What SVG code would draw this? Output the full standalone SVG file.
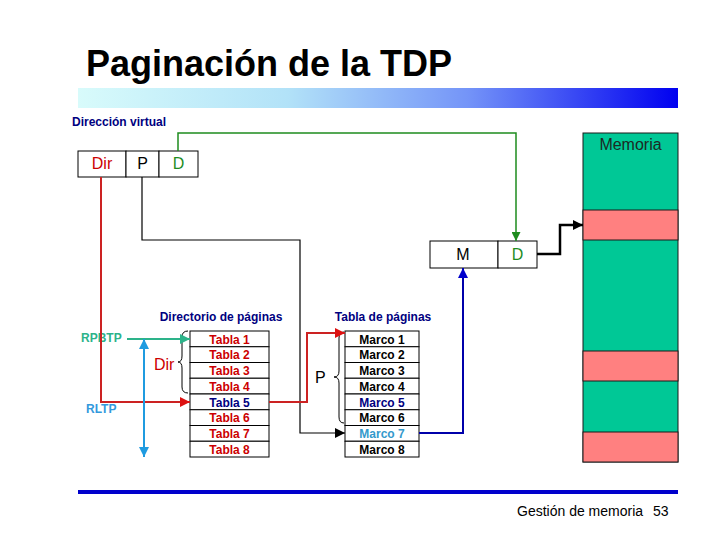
<svg xmlns="http://www.w3.org/2000/svg" width="720" height="540" viewBox="0 0 720 540">
<style>
text{font-family:"Liberation Sans",Arial,sans-serif}
.b{font-weight:bold}
.cell{fill:#fff;stroke:#000;stroke-width:1}
.row{fill:#fff;stroke:#000;stroke-width:1}
.t12{font-size:12px;font-weight:bold}
.t16{font-size:16px}
.red{fill:#cc0000}
.navy{fill:#000080}
.grn{fill:#1e8c1e}
.mem{fill:#00c896;stroke:#1a1a1a;stroke-width:1}
.memr{fill:#ff8080;stroke:#1a1a1a;stroke-width:1}
.ln{fill:none}
</style>
<defs>
<linearGradient id="bar" x1="0" y1="0" x2="1" y2="0">
<stop offset="0" stop-color="#d8fbfb"/>
<stop offset="0.35" stop-color="#b2e2f8"/>
<stop offset="0.65" stop-color="#7494f8"/>
<stop offset="1" stop-color="#0000f0"/>
</linearGradient>
<marker id="aG" viewBox="0 0 10 10" refX="10" refY="5" markerWidth="10" markerHeight="9" markerUnits="userSpaceOnUse" orient="auto"><path d="M0,0L10,5L0,10z" fill="#1e8c1e"/></marker>
<marker id="aK" viewBox="0 0 10 10" refX="10" refY="5" markerWidth="11" markerHeight="10" markerUnits="userSpaceOnUse" orient="auto"><path d="M0,0L10,5L0,10z" fill="#000"/></marker>
<marker id="aB" viewBox="0 0 10 10" refX="10" refY="5" markerWidth="11" markerHeight="10" markerUnits="userSpaceOnUse" orient="auto"><path d="M0,0L10,5L0,10z" fill="#0000cc"/></marker>
<marker id="aR" viewBox="0 0 10 10" refX="10" refY="5" markerWidth="11" markerHeight="10" markerUnits="userSpaceOnUse" orient="auto"><path d="M0,0L10,5L0,10z" fill="#dd1111"/></marker>
<marker id="aS" viewBox="0 0 10 10" refX="10" refY="5" markerWidth="11" markerHeight="10" markerUnits="userSpaceOnUse" orient="auto"><path d="M0,0L10,5L0,10z" fill="#2db38a"/></marker>
<marker id="aL" viewBox="0 0 10 10" refX="10" refY="5" markerWidth="11" markerHeight="10" markerUnits="userSpaceOnUse" orient="auto-start-reverse"><path d="M0,0L10,5L0,10z" fill="#1f9be0"/></marker>
</defs>
<rect width="720" height="540" fill="#fff"/>
<g id="title">
<text x="86" y="76" class="b" font-size="36">Paginación de la TDP</text>
<rect x="78" y="88" width="600" height="20" fill="url(#bar)"/>
</g>
<g id="virtual-address">
<text x="72" y="126" class="t12 navy">Dirección virtual</text>
<rect x="78" y="151" width="48" height="26" class="cell"/>
<rect x="126" y="151" width="33" height="26" class="cell"/>
<rect x="159" y="151" width="39" height="26" class="cell"/>
<text x="102" y="169" class="t16 red" text-anchor="middle">Dir</text>
<text x="142.5" y="169" class="t16" text-anchor="middle">P</text>
<text x="178.5" y="169" class="t16 grn" text-anchor="middle">D</text>
</g>
<g id="memory">
<rect x="583" y="133" width="95" height="329" class="mem"/>
<rect x="583" y="210" width="95" height="30" class="memr"/>
<rect x="583" y="351" width="95" height="30" class="memr"/>
<rect x="583" y="432" width="95" height="30" class="memr"/>
<text x="630.5" y="150" font-size="16" fill="#1c2a24" text-anchor="middle">Memoria</text>
</g>
<g id="physical-address">
<rect x="430" y="241" width="68" height="27" class="cell"/>
<rect x="498" y="241" width="39" height="27" class="cell"/>
<text x="463" y="260" class="t16" text-anchor="middle">M</text>
<text x="517.5" y="260" class="t16 grn" text-anchor="middle">D</text>
</g>
<g id="page-directory">
<text x="221" y="321" class="t12 navy" text-anchor="middle">Directorio de páginas</text>
<rect x="190" y="331" width="79" height="15.75" class="row"/>
<rect x="190" y="346.75" width="79" height="15.75" class="row"/>
<rect x="190" y="362.5" width="79" height="15.75" class="row"/>
<rect x="190" y="378.25" width="79" height="15.75" class="row"/>
<rect x="190" y="394" width="79" height="15.75" class="row"/>
<rect x="190" y="409.75" width="79" height="15.75" class="row"/>
<rect x="190" y="425.5" width="79" height="15.75" class="row"/>
<rect x="190" y="441.25" width="79" height="15.75" class="row"/>
<g class="t12" text-anchor="middle">
<text x="229.5" y="343.5" class="t12 red">Tabla 1</text>
<text x="229.5" y="359.25" class="t12 red">Tabla 2</text>
<text x="229.5" y="375" class="t12 red">Tabla 3</text>
<text x="229.5" y="390.75" class="t12 red">Tabla 4</text>
<text x="229.5" y="406.5" class="t12 navy">Tabla 5</text>
<text x="229.5" y="422.25" class="t12 red">Tabla 6</text>
<text x="229.5" y="438" class="t12 red">Tabla 7</text>
<text x="229.5" y="453.75" class="t12 red">Tabla 8</text>
</g>
<text x="154" y="370" font-size="16" class="red">Dir</text>
<path d="M188,331 Q182,331 182,337 V356 Q182,362 178,362 Q182,362 182,368 V387 Q182,393 188,393" fill="none" stroke="#000" stroke-width="1"/>
</g>
<g id="page-table">
<text x="383" y="321" class="t12 navy" text-anchor="middle">Tabla de páginas</text>
<rect x="345" y="331" width="74" height="15.75" class="row"/>
<rect x="345" y="346.75" width="74" height="15.75" class="row"/>
<rect x="345" y="362.5" width="74" height="15.75" class="row"/>
<rect x="345" y="378.25" width="74" height="15.75" class="row"/>
<rect x="345" y="394" width="74" height="15.75" class="row"/>
<rect x="345" y="409.75" width="74" height="15.75" class="row"/>
<rect x="345" y="425.5" width="74" height="15.75" class="row"/>
<rect x="345" y="441.25" width="74" height="15.75" class="row"/>
<g class="t12" text-anchor="middle">
<text x="382" y="343.5" class="t12">Marco 1</text>
<text x="382" y="359.25" class="t12">Marco 2</text>
<text x="382" y="375" class="t12">Marco 3</text>
<text x="382" y="390.75" class="t12">Marco 4</text>
<text x="382" y="406.5" class="t12 navy">Marco 5</text>
<text x="382" y="422.25" class="t12">Marco 6</text>
<text x="382" y="438" class="t12" fill="#3399cc">Marco 7</text>
<text x="382" y="453.75" class="t12">Marco 8</text>
</g>
<text x="315" y="383" font-size="16">P</text>
<path d="M344,332 Q339,332 339,338 V371 Q339,377 334,377 Q339,377 339,383 V417 Q339,423 344,423" fill="none" stroke="#000" stroke-width="1"/>
</g>
<g id="registers">
<text x="81" y="342" class="t12" fill="#2db38a">RPBTP</text>
<text x="86" y="413" class="t12" fill="#3399dd">RLTP</text>
</g>
<g id="connectors">
<path d="M178,151 V133 H516 V241" class="ln" stroke="#1e8c1e" stroke-width="1.5" marker-end="url(#aG)"/>
<path d="M142,177 V240 H300 V433 H345" class="ln" stroke="#000" stroke-width="1.2" marker-end="url(#aK)"/>
<path d="M537,254 H560 V225 H583" class="ln" stroke="#000" stroke-width="2.5" marker-end="url(#aK)"/>
<path d="M419,433 H463 V268" class="ln" stroke="#0000aa" stroke-width="2" marker-end="url(#aB)"/>
<path d="M101,177 V402 H190" class="ln" stroke="#cc2222" stroke-width="2" marker-end="url(#aR)"/>
<path d="M269,402 H307 V333 H345" class="ln" stroke="#cc2222" stroke-width="2" marker-end="url(#aR)"/>
<path d="M127,339 H190" class="ln" stroke="#2db38a" stroke-width="2" marker-end="url(#aS)"/>
<path d="M144,339 V457" class="ln" stroke="#1f9be0" stroke-width="2" marker-start="url(#aL)" marker-end="url(#aL)"/>
</g>
<g id="footer">
<rect x="78" y="490" width="600" height="4" fill="#0000cc"/>
<text x="517" y="516" font-size="14">Gestión de memoria</text>
<text x="653" y="516" font-size="14">53</text>
</g>
</svg>
